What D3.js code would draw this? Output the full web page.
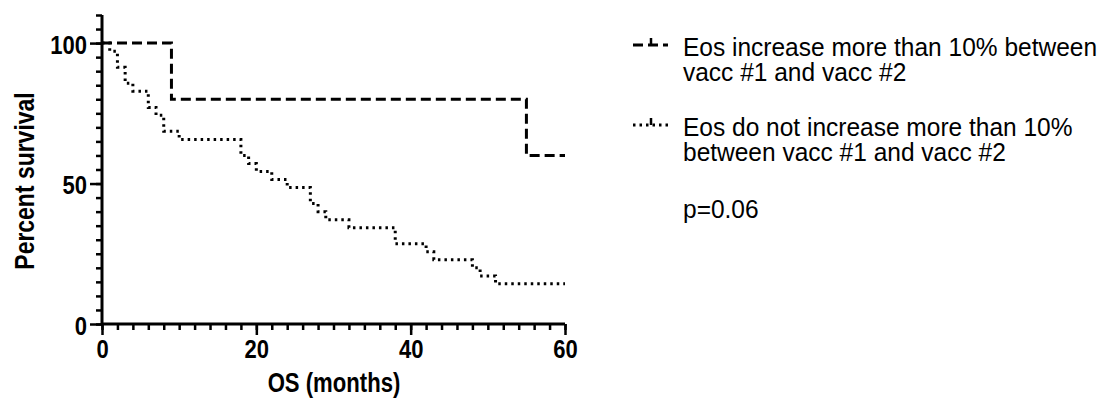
<!DOCTYPE html>
<html><head><meta charset="utf-8">
<script src="https://cdn.jsdelivr.net/npm/d3@7/dist/d3.min.js"></script>
<style>
html,body{margin:0;padding:0;background:#fff;}
svg text{font-family:"Liberation Sans",Arial,sans-serif;fill:#000;}
</style></head>
<body>
<svg id="c" width="1112" height="405"></svg>
<script>
// Series 1: Eos increase > 10% (times in months, survival %)
const s1Times = [0, 9, 55, 60];
const s1Surv  = [100, 80, 60, 60];
// Series 2: Eos do not increase > 10%
const s2Times = [0, 1, 2, 3, 4, 6, 7, 8, 10, 18, 19, 20, 22, 24, 27, 28, 29, 32, 38, 42, 43, 48, 49, 51, 60];
const s2Surv  = [100, 97.1, 91.4, 85.7, 82.9, 77.1, 74.3, 68.6, 65.7, 60.0, 57.1, 54.3, 51.4, 48.6, 42.9, 40.0, 37.1, 34.3, 28.6, 25.7, 22.9, 20.0, 17.1, 14.3, 14.3];
const xTicks = [0, 20, 40, 60];
const yTicks = [0, 50, 100];
const legendLabels = [
  ["Eos increase more than 10% between", "vacc #1 and vacc #2"],
  ["Eos do not increase more than 10%", "between vacc #1 and vacc #2"]
];
const pText = "p=0.06";

const svg = d3.select("#c");
const x = d3.scaleLinear().domain([0, 60]).range([102, 565]);
const y = d3.scaleLinear().domain([0, 110]).range([324, 15]);

const line = d3.line().x(d => x(d[0])).y(d => y(d[1])).curve(d3.curveStepAfter);

svg.append("path").datum(d3.zip(s1Times, s1Surv)).attr("d", line)
  .attr("fill", "none").attr("stroke", "#000").attr("stroke-width", 3)
  .attr("stroke-dasharray", "10,5");
svg.append("path").datum(d3.zip(s2Times, s2Surv)).attr("d", line)
  .attr("fill", "none").attr("stroke", "#000").attr("stroke-width", 3)
  .attr("stroke-dasharray", "2.5,4");

const TS = 0.88; // horizontal compression of tick text
// x axis
const xAxisG = svg.append("g").attr("transform", `translate(0,${y(0)})`);
xAxisG.call(d3.axisBottom(x).tickValues(d3.range(0, 61, 2)).tickSize(6).tickFormat(""));
xAxisG.selectAll(".tick line").attr("stroke-width", 2.5);
xAxisG.select(".domain").attr("stroke-width", 3).attr("d", `M${x(0)},0H${x(60)}`);
const xMajor = svg.append("g").attr("transform", `translate(0,${y(0)})`)
  .call(d3.axisBottom(x).tickValues(xTicks).tickSize(11));
xMajor.select(".domain").remove();
xMajor.selectAll(".tick line").attr("stroke-width", 2.5);
xMajor.selectAll(".tick text").style("font-size", "25px").style("font-weight", "bold")
  .attr("y", 16).attr("dy", "0.71em").attr("transform", `scale(${TS},1)`);

// y axis
const yAxisG = svg.append("g").attr("transform", `translate(${x(0)},0)`);
yAxisG.call(d3.axisLeft(y).tickValues(d3.range(0, 111, 5)).tickSize(6).tickFormat(""));
yAxisG.selectAll(".tick line").attr("stroke-width", 2.5);
yAxisG.select(".domain").attr("stroke-width", 3).attr("d", `M0,${y(110)}V${y(0)}`);
const yMajor = svg.append("g").attr("transform", `translate(${x(0)},0)`)
  .call(d3.axisLeft(y).tickValues(yTicks).tickSize(12));
yMajor.select(".domain").remove();
yMajor.selectAll(".tick line").attr("stroke-width", 2.5);
yMajor.selectAll(".tick text").style("font-size", "25px").style("font-weight", "bold")
  .attr("x", -15 / TS).attr("dy", "0.4em").attr("transform", `scale(${TS},1)`);
svg.selectAll(".tick text").attr("fill", "#000");

// axis titles
svg.append("text").attr("transform", "translate(334,392) scale(0.82,1)").attr("text-anchor", "middle")
  .style("font-size", "27px").style("font-weight", "bold").text("OS (months)");
svg.append("text").attr("transform", "translate(34,181) rotate(-90) scale(0.82,1)").attr("text-anchor", "middle")
  .style("font-size", "28px").style("font-weight", "bold").text("Percent survival");

// legend
const lg = svg.append("g");
const legY = [45, 125];
const dashes = ["10,5", "2.5,4"];
legY.forEach((ly, i) => {
  lg.append("path").attr("d", `M633,${ly}H668`).attr("stroke", "#000").attr("stroke-width", 3)
    .attr("fill", "none").attr("stroke-dasharray", dashes[i]);
  lg.append("path").attr("d", `M651,${ly - 7}V${ly}`).attr("stroke", "#000").attr("stroke-width", 2.5);
  legendLabels[i].forEach((t, j) => {
    lg.append("text").attr("transform", `translate(683,${ly + 11 + j * 25}) scale(0.98,1)`)
      .style("font-size", "25px").text(t);
  });
});
svg.append("text").attr("transform", "translate(683,218) scale(0.98,1)").style("font-size", "25px").text(pText);
</script>
</body></html>
